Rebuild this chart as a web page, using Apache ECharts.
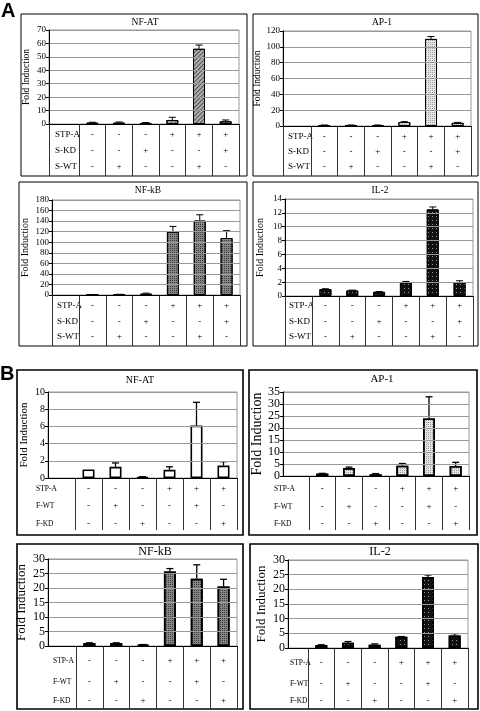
<!DOCTYPE html>
<html><head><meta charset="utf-8">
<script src="https://cdn.jsdelivr.net/npm/echarts@6/dist/echarts.min.js"></script>
<style>html,body{margin:0;padding:0;background:#fff}#c{width:480px;height:711px}</style>
</head><body><div id="c"></div>
<script>
// ---------- DATA ----------
const titles = ['NF-AT', 'AP-1', 'NF-kB', 'IL-2', 'NF-AT', 'AP-1', 'NF-kB', 'IL-2'];
const rowNamesA = ['STP-A', 'S-KD', 'S-WT'];
const rowNamesB = ['STP-A', 'F-WT', 'F-KD'];
const rowsA = [
  ['-', '-', '-', '+', '+', '+'],
  ['-', '-', '+', '-', '-', '+'],
  ['-', '+', '-', '-', '+', '-']
];
const rowsB = [
  ['-', '-', '-', '+', '+', '+'],
  ['-', '+', '-', '-', '+', '-'],
  ['-', '-', '+', '-', '-', '+']
];
const aNfatValues = [1, 1, 0.8, 3, 56, 2];
const aNfatErrors = [0.3, 0.5, 0.3, 2, 2.8, 1];
const aAp1Values = [1, 1, 1, 5, 110, 4];
const aAp1Errors = [0.3, 0.3, 0.3, 0.5, 3, 0.6];
const aNfkbValues = [0.5, 1, 2.5, 120, 141, 108];
const aNfkbErrors = [0.3, 0.3, 1, 10, 11, 14];
const aIl2Values = [1, 0.8, 0.6, 2, 12.5, 2];
const aIl2Errors = [0.05, 0.05, 0.05, 0.1, 0.35, 0.2];
const bNfatValues = [1, 1.3, 0.1, 0.95, 6.1, 1.45];
const bNfatErrors = [0, 0.45, 0.05, 0.35, 2.7, 0.45];
const bAp1Values = [1, 3.3, 0.7, 4.3, 24, 4.2];
const bAp1Errors = [0.1, 0.4, 0.3, 0.9, 9, 1.5];
const bNfkbValues = [1, 1, 0.4, 25.7, 23.2, 20.5];
const bNfkbErrors = [0.1, 0.1, 0.1, 1, 4.8, 2.5];
const bIl2Values = [1, 1.8, 1.1, 3.8, 24.2, 4.3];
const bIl2Errors = [0.1, 0.4, 0.3, 0.1, 0.7, 0.6];
const yMax = [70, 120, 180, 14, 10, 35, 30, 30];
const yStep = [10, 20, 20, 2, 2, 5, 5, 5];
const yName = 'Fold Induction';

// ---------- LAYOUT / STYLE ----------
const valuesAll = [aNfatValues, aAp1Values, aNfkbValues, aIl2Values, bNfatValues, bAp1Values, bNfkbValues, bIl2Values];
const errorsAll = [aNfatErrors, aAp1Errors, aNfkbErrors, aIl2Errors, bNfatErrors, bAp1Errors, bNfkbErrors, bIl2Errors];
const SERIF = '"Liberation Serif", "Times New Roman", serif';
const L = [
  {box:[21,14,247,176], ax:49, dl:79, right:239, top:30, zero:124, rows:[135,151,167], tb:176, rl:55, tx:145, ty:22, nx:31, ext:true, fs:9, tfs:9.5, nfs:9.5, bw:1, pat:'hatch', rfs:9},
  {box:[253,14,478,176], ax:283, dl:311, right:471, top:31, zero:126, rows:[137,152,167], tb:176, rl:288, tx:382, ty:22, nx:262, ext:true, fs:9, tfs:9.5, nfs:9.5, bw:1, pat:'light', rfs:9},
  {box:[19,182,247,346], ax:52, dl:79, right:240, top:200, zero:295, rows:[306,322,337], tb:346, rl:57, tx:148, ty:190, nx:30, ext:true, fs:9, tfs:9.5, nfs:10, bw:1, pat:'dark', rfs:9},
  {box:[253,182,478,346], ax:285, dl:312, right:473, top:199, zero:296, rows:[306,322,337], tb:346, rl:289, tx:380, ty:190, nx:265, ext:true, fs:9, tfs:9.5, nfs:10, bw:1, pat:'black', rfs:9},
  {box:[17,370,243,535], ax:48, dl:75, right:237, top:392, zero:478, rows:[489,506,524], tb:530, rl:36, tx:140, ty:380, nx:30, ext:false, fs:10, tfs:10, nfs:11, bw:1.6, pat:'white', rfs:7.5},
  {box:[249,370,477,535], ax:283, dl:309, right:469, top:392, zero:476, rows:[489,507,524], tb:530, rl:274, tx:382, ty:379, nx:267, ext:false, fs:12, tfs:11, nfs:14, bw:1.6, pat:'light', rfs:7.5},
  {box:[17,544,243,709], ax:48, dl:76, right:237, top:559, zero:646, rows:[661,682,701], tb:709, rl:53, tx:155, ty:552, nx:28, ext:false, fs:12, tfs:12, nfs:13, bw:1.6, pat:'dark', rfs:7.5},
  {box:[250,544,478,709], ax:288, dl:308, right:468, top:560, zero:648, rows:[663,684,701], tb:709, rl:290, tx:380, ty:552, nx:268, ext:false, fs:12, tfs:12, nfs:13, bw:1.6, pat:'black', rfs:7.5}
];
const PATS = {
  hatch: {color:'#b0b0b0', decal:{symbol:'rect', symbolSize:1, color:'rgba(0,0,0,0.55)', dashArrayX:[1,0], dashArrayY:[1,2], rotation:-Math.PI/4}},
  light: {color:'#e4e4e4', decal:{symbol:'rect', symbolSize:1, color:'rgba(0,0,0,0.3)', dashArrayX:[1,1], dashArrayY:[1,1]}},
  dark:  {color:'#858585', decal:{symbol:'rect', symbolSize:1, color:'rgba(0,0,0,0.55)', dashArrayX:[1,1], dashArrayY:[1,1]}},
  black: {color:'#111', decal:{symbol:'rect', symbolSize:1, color:'rgba(255,255,255,0.55)', dashArrayX:[1,3], dashArrayY:[1,3]}},
  white: {color:'#fff', decal:null}
};

const grid = [], xAxis = [], yAxis = [], series = [], graphic = [];

graphic.push({type:'text', x:1, y:1, style:{text:'A', font:'bold 20px "Liberation Sans", Arial, sans-serif', fill:'#000', textAlign:'left', textVerticalAlign:'top', align:'left', verticalAlign:'top'}});
graphic.push({type:'text', x:0, y:364, style:{text:'B', font:'bold 20px "Liberation Sans", Arial, sans-serif', fill:'#000', textAlign:'left', textVerticalAlign:'top', align:'left', verticalAlign:'top'}});

L.forEach((p, i) => {
  const isA = i < 4;
  const rows = isA ? rowsA : rowsB;
  const rowNames = isA ? rowNamesA : rowNamesB;
  const h = p.zero - p.top;
  const tableLen = p.tb - p.zero;
  const g0 = grid.length;
  grid.push({left:p.ax, top:p.top, width:p.right - p.ax, height:h, show:true, borderColor:'#9a9a9a', borderWidth:1, backgroundColor:'transparent'});
  const g1 = grid.length;
  grid.push({left:p.dl, top:p.top, width:p.right - p.dl, height:h});

  xAxis.push({gridIndex:g0, type:'category', data:[''], axisLine:{show:true, lineStyle:{color:'#000', width:1}},
    axisTick:{show:p.ext, length:tableLen, lineStyle:{color:'#333'}}, axisLabel:{show:false}, splitLine:{show:false}, z:5});
  yAxis.push({gridIndex:g0, type:'value', min:0, max:yMax[i], interval:yStep[i],
    axisLine:{show:true, lineStyle:{color:'#000'}}, axisTick:{show:true, length:3, lineStyle:{color:'#000'}},
    axisLabel:{fontFamily:SERIF, fontSize:p.fs, color:'#000', margin:3},
    splitLine:{show:true, lineStyle:{color:'#9a9a9a', width:1}},
    name:yName, nameLocation:'middle', nameRotate:90, nameGap:p.ax - p.nx,
    nameTextStyle:{fontFamily:SERIF, fontSize:p.nfs, color:'#000'}, z:5});

  const xr = [];
  rows.forEach((r, k) => {
    xr.push(xAxis.length);
    xAxis.push({gridIndex:g1, type:'category', data:r, position:'bottom',
      axisLine:{show:false}, axisTick:{show:k === 0, interval:0, length:tableLen, lineStyle:{color:'#333'}},
      axisLabel:{interval:0, fontFamily:SERIF, fontSize:9, color:'#000', margin:p.rows[k] - p.zero, verticalAlign:'middle'},
      splitLine:{show:false}});
  });
  const yd = yAxis.length;
  yAxis.push({gridIndex:g1, type:'value', min:0, max:yMax[i], interval:yStep[i], show:false, splitLine:{show:false}});

  const pat = PATS[p.pat];
  const itemStyle = {color:pat.color, borderColor:'#000', borderWidth:p.bw};
  if (pat.decal) itemStyle.decal = pat.decal;
  series.push({type:'bar', xAxisIndex:xr[0], yAxisIndex:yd, data:valuesAll[i], barWidth:12, itemStyle, silent:true, z:3});
  series.push({type:'custom', xAxisIndex:xr[0], yAxisIndex:yd, z:4, silent:true,
    data:valuesAll[i].map((v, j) => [j, v, v + errorsAll[i][j]]),
    renderItem:(params, api) => {
      if (api.value(2) <= api.value(1)) return null;
      const b = api.coord([api.value(0), api.value(1)]);
      const t = api.coord([api.value(0), api.value(2)]);
      const st = {stroke:'#000', lineWidth:p.bw > 1 ? 1.3 : 1};
      return {type:'group', children:[
        {type:'line', shape:{x1:b[0], y1:b[1], x2:t[0], y2:t[1]}, style:st},
        {type:'line', shape:{x1:t[0] - 3.5, y1:t[1], x2:t[0] + 3.5, y2:t[1]}, style:st}
      ]};
    }});

  graphic.push({type:'text', x:p.tx, y:p.ty, style:{text:titles[i], font:p.tfs + 'px ' + SERIF, fill:'#000', textAlign:'center', textVerticalAlign:'middle', align:'center', verticalAlign:'middle'}});
  rowNames.forEach((n, k) => {
    graphic.push({type:'text', x:p.rl, y:p.rows[k], style:{text:n, font:p.rfs + 'px ' + SERIF, fill:'#000', textAlign:'left', textVerticalAlign:'middle', align:'left', verticalAlign:'middle'}});
  });
  graphic.push({type:'rect', shape:{x:p.box[0], y:p.box[1], width:p.box[2] - p.box[0], height:p.box[3] - p.box[1]},
    style:{fill:'none', stroke:'#000', lineWidth:p.bw}, z:-1});
});

const chart = echarts.init(document.getElementById('c'), null, {renderer:'canvas'});
chart.setOption({animation:false, grid, xAxis, yAxis, series, graphic});
</script></body></html>
